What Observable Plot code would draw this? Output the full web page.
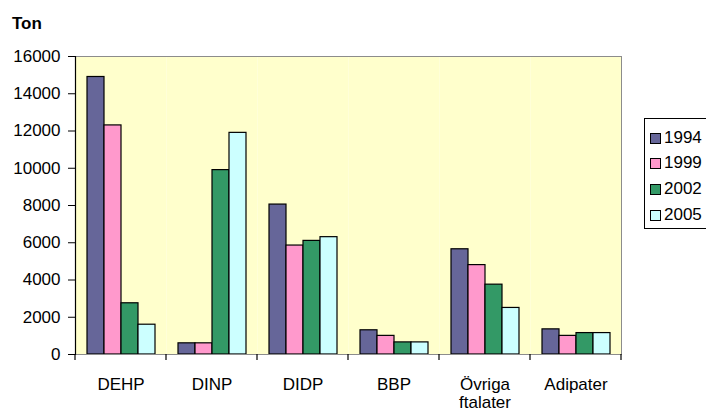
<!DOCTYPE html>
<html><head><meta charset="utf-8">
<script src="https://cdn.jsdelivr.net/npm/d3@7"></script>
<script src="https://cdn.jsdelivr.net/npm/@observablehq/plot@0.6"></script>
<style>
body{margin:0;background:#fff;font-family:"Liberation Sans",Arial,sans-serif;}
#wrap{position:relative;width:706px;height:412px;overflow:hidden;}
#title{position:absolute;left:12px;top:15px;font-weight:bold;font-size:17px;line-height:17px;color:#000;}
#legend{position:absolute;left:644px;top:118px;width:80px;height:111px;border:1px solid #000;box-sizing:border-box;background:#fff;}
.item{position:absolute;left:5px;height:20px;display:flex;align-items:center;font-size:17px;color:#000;}
.sw{width:9px;height:9px;border:1px solid #000;margin-right:3px;}
</style></head>
<body><div id="wrap"><div id="title">Ton</div></div>
<script>
const categories = ["DEHP", "DINP", "DIDP", "BBP", "Övriga\nftalater", "Adipater"];
const years = ["1994", "1999", "2002", "2005"];
const v1994 = [14900, 600, 8050, 1300, 5650, 1350];
const v1999 = [12300, 600, 5850, 1000, 4800, 1000];
const v2002 = [2750, 9900, 6100, 650, 3750, 1150];
const v2005 = [1600, 11900, 6300, 650, 2500, 1150];
const yTicks = [0, 2000, 4000, 6000, 8000, 10000, 12000, 14000, 16000];
const colors = ["#666699", "#ff99cc", "#339966", "#ccffff"];

const series = [v1994, v1999, v2002, v2005];
const data = categories.flatMap((c, i) => years.map((yr, j) => ({cat: c, year: yr, value: series[j][i]})));

const plot = Plot.plot({
  width: 706, height: 412,
  marginLeft: 75, marginRight: 85, marginTop: 56, marginBottom: 58,
  style: {fontFamily: "'Liberation Sans', Arial, sans-serif", fontSize: "17px", background: "transparent", overflow: "visible", color: "#000"},
  fx: {domain: categories, padding: 0, label: null, round: true},
  x: {domain: years, paddingInner: 0, paddingOuter: 0.675, axis: null},
  y: {domain: [0, 16000], label: null},
  color: {domain: years, range: colors},
  marks: [
    Plot.frame({fill: "#ffffcc"}),
    Plot.barY(data, {fx: "cat", x: "year", y: "value", fill: "year", stroke: "#000", strokeWidth: 1.2}),
    Plot.ruleY([0], {stroke: "#000", strokeWidth: 1.2}),
    Plot.frame({stroke: "#8c8c8c", facet: "super"}),
    Plot.frame({anchor: "left", stroke: "#000", strokeWidth: 1.2, facet: "super"}),
    Plot.axisY({ticks: yTicks, tickSize: 7, tickPadding: 8, fontSize: 17, tickFormat: d => String(d), label: null}),
    Plot.axisFx({anchor: "bottom", tickSize: 0, tickPadding: 22, fontSize: 17, lineHeight: 1.08, label: null})
  ]
});

// boundary ticks on the category axis, from the library's fx scale
const fx = plot.scale("fx");
const bw = fx.bandwidth;
const bounds = categories.map(c => fx.apply(c)).concat([fx.apply(categories[categories.length - 1]) + bw]);
const y0 = plot.scale("y").apply(0);
d3.select(plot).append("g").attr("stroke", "#000").attr("stroke-width", 1.2)
  .selectAll("line").data(bounds).join("line")
  .attr("x1", d => d).attr("x2", d => d).attr("y1", y0).attr("y2", y0 + 6);

const wrap = document.getElementById("wrap");
plot.style.position = "absolute"; plot.style.left = "0"; plot.style.top = "0";
wrap.appendChild(plot);

const legend = document.createElement("div");
legend.id = "legend";
const tops = [9, 34, 60, 86];
years.forEach((yr, j) => {
  const it = document.createElement("div");
  it.className = "item";
  it.style.top = tops[j] + "px";
  const sw = document.createElement("div");
  sw.className = "sw";
  sw.style.background = colors[j];
  it.appendChild(sw);
  it.appendChild(document.createTextNode(yr));
  legend.appendChild(it);
});
wrap.appendChild(legend);
</script>
</body></html>
